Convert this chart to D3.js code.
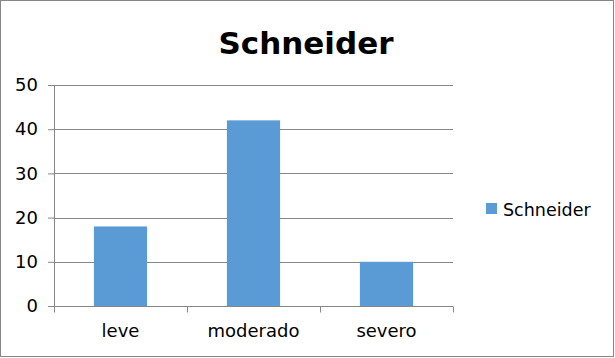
<!DOCTYPE html>
<html>
<head>
<meta charset="utf-8">
<script src="https://cdn.jsdelivr.net/npm/d3@7"></script>
<style>
  body { margin: 0; background: #fff; }
  svg text { font-family: "DejaVu Sans", Verdana, sans-serif; fill: #000; }
</style>
</head>
<body>
<svg width="615" height="358"></svg>
<script>
var categories = ["leve", "moderado", "severo"];
var values = [18, 42, 10];
var yTicks = [0, 10, 20, 30, 40, 50];
var seriesName = "Schneider";

var svg = d3.select("svg"),
  margin = { top: 85, right: 162, bottom: 52, left: 54 },
  width = +svg.attr("width") - margin.left - margin.right,
  height = +svg.attr("height") - margin.top - margin.bottom;

// outer frame
svg.append("rect")
  .attr("x", 0.5).attr("y", 0.5)
  .attr("width", 613).attr("height", 356)
  .attr("fill", "#fff").attr("stroke", "#868686");

svg.append("text")
  .attr("x", 306).attr("y", 54)
  .attr("text-anchor", "middle")
  .style("font-size", "31px").style("font-weight", "bold")
  .text(seriesName);

var g = svg.append("g")
  .attr("transform", "translate(" + margin.left + "," + margin.top + ")");

var x = d3.scaleBand().domain(categories).range([0, width])
  .paddingInner(0.6).paddingOuter(0.3);
var x0 = d3.scalePoint().domain(d3.range(categories.length + 1)).range([0, width]);
var y = d3.scaleLinear().domain([0, 50]).range([height, 0]);

// gridlines
g.selectAll(".grid").data(yTicks.slice(1)).enter().append("line")
  .attr("x1", 0).attr("x2", width)
  .attr("y1", function (d) { return Math.round(y(d)) + 0.5; })
  .attr("y2", function (d) { return Math.round(y(d)) + 0.5; })
  .attr("stroke", "#868686");

g.selectAll(".bar").data(values).enter().append("rect")
  .attr("x", function (d, i) { return x(categories[i]); })
  .attr("width", x.bandwidth())
  .attr("y", function (d) { return y(d); })
  .attr("height", function (d) { return height - y(d); })
  .attr("fill", "#5b9bd5");

// y axis
var yAxis = g.append("g")
  .call(d3.axisLeft(y).tickValues(yTicks).tickSize(6).tickPadding(10));
yAxis.select(".domain").attr("stroke", "#868686").attr("d", "M0.5," + height + "V0");
yAxis.selectAll(".tick line").attr("stroke", "#868686");
yAxis.selectAll(".tick text").style("font-size", "18px").attr("fill", "#000");

// x axis with boundary ticks
var xg = g.append("g").attr("transform", "translate(0," + (Math.round(height) + 0.5) + ")");
xg.append("line").attr("x1", 0).attr("x2", width).attr("stroke", "#868686");
xg.selectAll(".xt").data(x0.domain()).enter().append("line")
  .attr("x1", function (d) { return Math.round(x0(d)) + 0.5; })
  .attr("x2", function (d) { return Math.round(x0(d)) + 0.5; })
  .attr("y1", 0).attr("y2", 6)
  .attr("stroke", "#868686");
xg.selectAll(".xl").data(categories).enter().append("text")
  .attr("x", function (d) { return x(d) + x.bandwidth() / 2; })
  .attr("y", 30)
  .attr("text-anchor", "middle")
  .style("font-size", "18px")
  .text(function (d) { return d; });

// legend
var lg = svg.append("g").attr("transform", "translate(486,203)");
lg.append("rect").attr("width", 11).attr("height", 11).attr("fill", "#5b9bd5");
lg.append("text").attr("x", 17).attr("y", 13).style("font-size", "17.5px").text(seriesName);
</script>
</body>
</html>
